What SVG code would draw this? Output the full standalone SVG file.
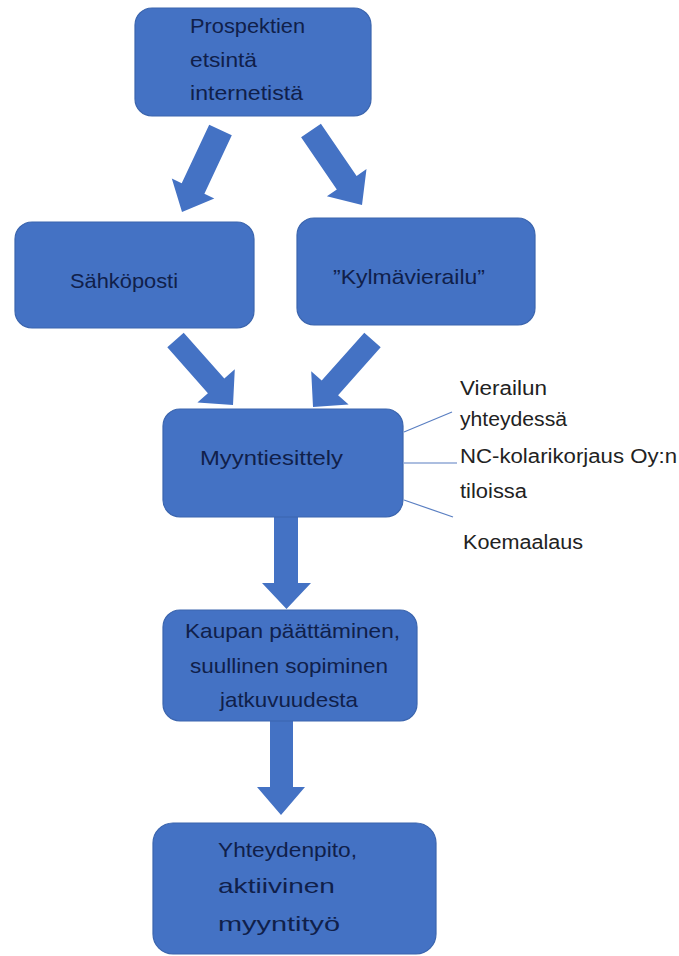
<svg xmlns="http://www.w3.org/2000/svg" width="679" height="956" viewBox="0 0 679 956">
<style>
.box{fill:#4472C4;stroke:#3b65ae;stroke-width:1.2}
.t{font-family:"Liberation Sans",Arial,sans-serif;font-size:21px;fill:#10204a}
.o{font-family:"Liberation Sans",Arial,sans-serif;font-size:20px;fill:#222}
.arr{fill:#4472C4}
.ln{stroke:#5a7fc2;stroke-width:1.2;fill:none}
</style>
<rect width="679" height="956" fill="#fff"/>
<g id="connectors">
<polygon class="arr" points="231.8,135.3 204.4,193.8 214.3,198.5 182,212 171.8,178.5 181.7,183.2 209.2,124.7"/>
<polygon class="arr" points="320.9,123.7 356.6,175.9 366.5,169.1 362,205 326.9,196.3 336.8,189.5 301.1,137.3"/>
<polygon class="arr" points="183.7,332.7 224.3,378.6 234.8,369.3 233,405 197.4,402.5 207.9,393.2 167.3,347.3"/>
<polygon class="arr" points="380.7,347.3 338.1,395.2 348.6,404.5 313,407 311.2,371.3 321.7,380.6 364.3,332.7"/>
<polygon class="arr" points="274,517 298,517 298,583 311,583 286.5,609 262,583 274,583"/>
<polygon class="arr" points="270,720 293,720 293,787 305,787 281,815 257,787 270,787"/>
<line class="ln" x1="404" y1="432" x2="452" y2="412"/>
<line class="ln" x1="404" y1="463" x2="457" y2="463"/>
<line class="ln" x1="404" y1="500" x2="453" y2="517"/>
</g>
<g id="n1">
<rect class="box" x="135" y="8" width="236" height="108" rx="17"/>
<text class="t" x="190" y="33" textLength="115" lengthAdjust="spacingAndGlyphs">Prospektien</text>
<text class="t" x="190" y="67" textLength="67" lengthAdjust="spacingAndGlyphs">etsintä</text>
<text class="t" x="190" y="100" textLength="113" lengthAdjust="spacingAndGlyphs">internetistä</text>
</g>
<g id="n2">
<rect class="box" x="15" y="222" width="239" height="106" rx="17"/>
<text class="t" x="70" y="288" textLength="108" lengthAdjust="spacingAndGlyphs">Sähköposti</text>
</g>
<g id="n3">
<rect class="box" x="297" y="218" width="238" height="107" rx="17"/>
<text class="t" x="333" y="284" textLength="152" lengthAdjust="spacingAndGlyphs">”Kylmävierailu”</text>
</g>
<g id="n4">
<rect class="box" x="163" y="409" width="240" height="108" rx="17"/>
<text class="t" x="200" y="465" textLength="143" lengthAdjust="spacingAndGlyphs">Myyntiesittely</text>
</g>
<g id="n4notes">
<text class="o" x="460" y="395" textLength="87" lengthAdjust="spacingAndGlyphs">Vierailun</text>
<text class="o" x="460" y="426" textLength="107" lengthAdjust="spacingAndGlyphs">yhteydessä</text>
<text class="o" x="460" y="463" textLength="217" lengthAdjust="spacingAndGlyphs">NC-kolarikorjaus Oy:n</text>
<text class="o" x="460" y="498" textLength="67" lengthAdjust="spacingAndGlyphs">tiloissa</text>
<text class="o" x="463" y="549" textLength="120" lengthAdjust="spacingAndGlyphs">Koemaalaus</text>
</g>
<g id="n5">
<rect class="box" x="163" y="610" width="254" height="111" rx="17"/>
<text class="t" x="185" y="638" textLength="215" lengthAdjust="spacingAndGlyphs">Kaupan päättäminen,</text>
<text class="t" x="190" y="673" textLength="198" lengthAdjust="spacingAndGlyphs">suullinen sopiminen</text>
<text class="t" x="220" y="707" textLength="138" lengthAdjust="spacingAndGlyphs">jatkuvuudesta</text>
</g>
<g id="n6">
<rect class="box" x="153" y="823" width="283" height="131" rx="20"/>
<text class="t" x="218" y="857" textLength="139" lengthAdjust="spacingAndGlyphs">Yhteydenpito,</text>
<text class="t" x="218" y="893" textLength="117" lengthAdjust="spacingAndGlyphs">aktiivinen</text>
<text class="t" x="218" y="931" textLength="122" lengthAdjust="spacingAndGlyphs">myyntityö</text>
</g>
</svg>
